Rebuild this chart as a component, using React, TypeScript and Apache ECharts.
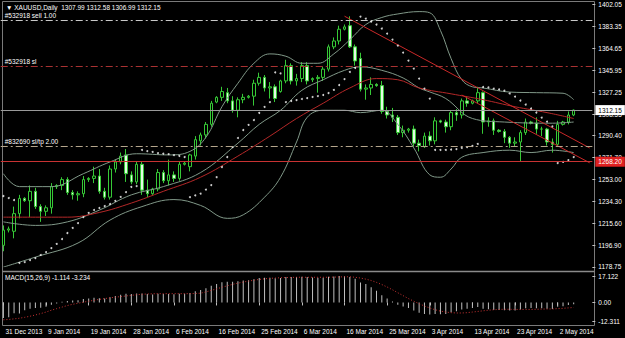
import React, { useEffect, useRef } from "react";
import * as echarts from "echarts";

const dates = [
  "31 Dec 2013",
  "1 Jan 2014","2 Jan 2014","3 Jan 2014","5 Jan 2014","6 Jan 2014","7 Jan 2014","8 Jan 2014","9 Jan 2014","10 Jan 2014","12 Jan 2014",
  "13 Jan 2014","14 Jan 2014","15 Jan 2014","16 Jan 2014","17 Jan 2014","19 Jan 2014","20 Jan 2014","21 Jan 2014","22 Jan 2014","23 Jan 2014",
  "24 Jan 2014","26 Jan 2014","27 Jan 2014","28 Jan 2014","29 Jan 2014","30 Jan 2014","31 Jan 2014",
  "2 Feb 2014","3 Feb 2014","4 Feb 2014","5 Feb 2014","6 Feb 2014","7 Feb 2014","9 Feb 2014","10 Feb 2014","11 Feb 2014","12 Feb 2014",
  "13 Feb 2014","14 Feb 2014","16 Feb 2014","17 Feb 2014","18 Feb 2014","19 Feb 2014","20 Feb 2014","21 Feb 2014","23 Feb 2014","24 Feb 2014",
  "25 Feb 2014","26 Feb 2014","27 Feb 2014","28 Feb 2014",
  "2 Mar 2014","3 Mar 2014","4 Mar 2014","5 Mar 2014","6 Mar 2014","7 Mar 2014","9 Mar 2014","10 Mar 2014","11 Mar 2014","12 Mar 2014",
  "13 Mar 2014","14 Mar 2014","16 Mar 2014","17 Mar 2014","18 Mar 2014","19 Mar 2014","20 Mar 2014","21 Mar 2014","23 Mar 2014","24 Mar 2014",
  "25 Mar 2014","26 Mar 2014","27 Mar 2014","28 Mar 2014","30 Mar 2014","31 Mar 2014",
  "1 Apr 2014","2 Apr 2014","3 Apr 2014","4 Apr 2014","6 Apr 2014","7 Apr 2014","8 Apr 2014","9 Apr 2014","10 Apr 2014","11 Apr 2014",
  "13 Apr 2014","14 Apr 2014","15 Apr 2014","16 Apr 2014","17 Apr 2014","20 Apr 2014","21 Apr 2014","22 Apr 2014","23 Apr 2014","24 Apr 2014",
  "25 Apr 2014","27 Apr 2014","28 Apr 2014","29 Apr 2014","30 Apr 2014",
  "1 May 2014","2 May 2014","4 May 2014","5 May 2014","6 May 2014",
];

const opens = [
  1197,1210,1209,1224,1237,1235,1243,1230,1226,1229,
  1247,1248,1253,1242,1240,1241,1253,1254,1256,1243,
  1238,1262,1268,1274,1257,1251,1266,1244,1241,1245,
  1259,1252,1257,1254,1266,1264,1273,1286,1291,1300,
  1319,1323,1327,1320,1312,1321,1323,1324,1335,1340,
  1331,1332,1328,1337,1350,1337,1339,1350,1338,1339,
  1340,1347,1366,1371,1381,1384,1366,1356,1330,1331,
  1334,1333,1311,1308,1306,1293,1295,1296,1284,1281,
  1290,1286,1303,1302,1298,1310,1308,1320,1318,1320,
  1327,1302,1303,1295,1294,1289,1284,1285,1293,1302,
  1301,1296,1296,1285,1283,1300,1302,1307.99,
];
const highs = [
  1214,1213,1230,1240,1238,1248,1246,1232,1231,1250,
  1249,1255,1255,1244,1243,1256,1255,1264,1262,1246,
  1265,1270,1276,1279,1260,1268,1268,1253,1246,1262,
  1261,1270,1260,1268,1268,1275,1290,1293,1302,1320,
  1324,1332,1331,1324,1323,1326,1325,1338,1344,1342,
  1336,1334,1338,1355,1352,1343,1353,1353,1340,1342,
  1349,1368,1374,1384,1385,1392,1368,1361,1334,1340,
  1335,1337,1315,1314,1308,1299,1297,1299,1287,1293,
  1294,1306,1304,1304,1312,1313,1322,1324,1321,1332,
  1328,1306,1305,1296,1296,1290,1289,1295,1305,1303,
  1306,1298,1297,1288,1303,1303,1311,1312.58,
];
const lows = [
  1192,1208,1203,1220,1234,1221,1228,1217,1222,1224,
  1245,1244,1240,1236,1235,1238,1251,1250,1241,1236,
  1236,1259,1266,1251,1249,1249,1240,1238,1240,1243,
  1250,1248,1251,1252,1265,1260,1270,1282,1288,1298,
  1318,1320,1318,1310,1306,1318,1322,1316,1333,1328,
  1322,1319,1327,1335,1334,1333,1336,1334,1336,1327,
  1337,1345,1364,1368,1380,1365,1350,1328,1321,1325,
  1332,1309,1305,1302,1291,1289,1293,1281,1277,1280,
  1282,1283,1301,1293,1295,1303,1305,1315,1317,1318,
  1292,1298,1291,1293,1284,1280,1281,1268,1291,1300,
  1292,1290,1282,1276,1281,1299,1300,1306.99,
];
const closes = [
  1210,1211,1224,1237,1235,1243,1230,1226,1229,1247,
  1248,1253,1242,1240,1241,1253,1254,1256,1243,1238,
  1262,1268,1273,1258,1251,1266,1244,1241,1245,1259,
  1252,1257,1254,1266,1267,1274,1287,1291,1300,1318,
  1323,1328,1320,1312,1321,1323,1324,1335,1340,1331,
  1332,1322,1337,1350,1337,1339,1350,1337,1339,1340,
  1347,1366,1371,1381,1383,1366,1354,1330,1331,1334,
  1333,1311,1308,1306,1293,1295,1296,1284,1282,1290,
  1286,1303,1302,1298,1310,1308,1320,1318,1320,1327,
  1302,1303,1295,1294,1289,1284,1285,1293,1302,1301,
  1296,1296,1285,1283,1300,1302,1308,1312.15,
];

const sar = [
  1239.0,1237.3,1235.6,1182.0,1182.8,1184.5,1186.2,1188.8,1191.3,1194.7,
  1198.2,1202.4,1207.5,1211.8,1216.0,1221.1,1224.6,1227.1,1228.8,1230.5,
  1232.2,1234.8,1238.2,1242.4,1246.7,1247.5,1278.2,1277.3,1276.5,1275.6,
  1275.0,1274.6,1273.9,1273.1,1272.2,1238.0,1239.5,1241.0,1244.5,1248.3,
  1255.0,1263.7,1272.2,1280.7,1288.4,1295.2,1299.5,1303.7,1309.7,1314.8,
  1319.0,1344.2,1343.4,1319.0,1319.9,1320.7,1321.6,1322.4,1323.3,1324.1,
  1325.0,1326.7,1329.3,1333.5,1338.6,1344.6,1348.0,1391.8,1390.1,1387.5,
  1385.0,1381.6,1377.3,1372.2,1367.1,1361.1,1354.3,1347.5,1339.0,1330.5,
  1322.0,1278.2,1278.2,1278.2,1278.6,1279.0,1279.9,1280.7,1281.6,1283.3,
  1331.8,1331.4,1330.5,1329.7,1328.8,1326.3,1323.7,1320.3,1316.9,1313.5,
  1310.1,1305.8,1302.4,1298.2,1267.1,1268.0,1269.6,1272.2,
];

const macdMain = [
  -10.0,-9.6,-7.0,-7.2,-5.0,-4.0,-3.5,-3.4,-2.8,-1.4,
  -0.6,0.4,1.0,1.3,1.5,2.2,2.6,3.0,2.8,2.6,
  3.4,4.2,5.0,5.6,5.4,5.8,5.8,5.4,5.2,5.6,
  5.4,5.4,5.3,5.6,5.7,6.2,7.2,8.0,9.2,10.8,
  12.0,13.0,13.4,13.4,13.8,14.2,14.3,15.0,15.8,16.0,
  16.0,15.6,15.8,16.4,16.4,16.4,16.6,16.4,16.2,16.0,
  16.0,16.6,16.8,17.1,17.0,16.4,15.4,12.9,11.9,9.8,
  7.6,4.6,2.5,0.6,-1.5,-2.6,-3.5,-5.2,-6.6,-7.4,
  -7.8,-7.4,-7.6,-7.4,-6.4,-5.6,-4.6,-4.0,-3.6,-3.0,
  -4.0,-4.4,-4.8,-4.8,-5.0,-5.2,-5.2,-4.6,-3.8,-3.6,
  -3.8,-3.8,-4.0,-4.2,-2.8,-2.4,-1.6,-1.114,
];
const macdSignal = [
  -11.2,-11.0,-10.6,-10.2,-9.6,-8.9,-8.1,-7.2,-6.2,-5.0,
  -4.0,-3.0,-2.0,-1.2,-0.5,0.2,0.8,1.4,2.0,2.5,
  3.0,3.4,3.8,4.2,4.6,5.0,5.3,5.5,5.6,5.7,
  5.7,5.7,5.7,5.7,5.7,5.7,5.8,6.0,6.8,7.8,
  8.8,9.8,10.8,11.7,12.5,13.2,13.8,14.4,14.9,15.3,
  15.6,15.8,16.0,16.1,16.2,16.3,16.3,16.3,16.3,16.3,
  16.3,16.3,16.4,16.5,16.6,16.6,16.3,15.8,15.1,14.2,
  13.0,11.6,10.0,8.2,6.3,4.4,2.5,0.8,-0.8,-2.3,
  -3.6,-4.7,-5.6,-6.2,-6.6,-6.8,-6.8,-6.6,-6.2,-5.8,
  -5.4,-5.0,-4.7,-4.5,-4.4,-4.4,-4.5,-4.5,-4.5,-4.5,
  -4.4,-4.3,-4.2,-4.2,-4.0,-3.8,-3.5,-3.234,
];

// Bollinger bands and moving average, read at selected bars: [bar index, price]
const bbUpper = [
  [0,1258],[3,1247],[9,1247],[15,1258],[20,1268],[25,1275],[31,1274],[35,1277],[38,1289],[41,1315],
  [44,1335],[47,1352],[50,1360],[53,1358],[56,1352],[59,1352],[62,1360],[65,1372],[68,1385],[71,1391],
  [74,1394],[78,1396],[80,1395],[82,1380],[84,1356],[86,1338],[88,1332],[90,1331],[95,1327.5],[100,1327],
  [105,1326.5],[107,1321],
];
const bbMiddle = [
  [0,1217],[6,1214],[12,1217],[18,1227],[24,1240],[30,1247],[37,1259],[44,1284],[48,1300],[52,1312],
  [56,1329],[60,1338],[64,1346],[67,1349],[71,1346],[75,1339.5],[78,1331],[80,1327.6],[83,1322],[88,1305],
  [94,1302],[103,1301],[107,1302],
];
const bbLower = [
  [0,1178.5],[6,1187],[14,1199],[20,1218.5],[26,1230],[32,1236],[37,1231],[42,1220],[45,1223],[49,1238],
  [52,1255],[55,1285],[57,1306],[60,1312],[64,1312],[67,1310],[71,1312],[74,1300],[77,1280],[80,1257],
  [82,1255],[84,1262],[86,1272],[90,1276],[95,1278],[99,1276],[103,1278],[107,1276],
];
const maRed = [
  [0,1221],[6,1221],[12,1221],[18,1225],[24,1233],[30,1243],[37,1255],[44,1273],[50,1290],[55,1305],
  [60,1318],[65,1331],[70,1339],[74,1338],[78,1331],[84,1326],[90,1321],[96,1315],[102,1310],[107,1305],
];
const trendLine1 = [[64,1392.1],[110,1279.9]];
const trendLine2 = [[86,1325],[110,1267.3]];

const priceTicks = [1402.05,1383.35,1364.65,1345.95,1327.25,1308.55,1290.40,1271.70,1253.00,1234.30,1215.60,1196.90,1178.75];
const macdTicks = [17.122, 0, -12.311];

const sellPrice = 1388.9;
const slPrice = 1349.7;
const sltpPrice = 1281.6;
const redLinePrice = 1268.2;
const bidPrice = 1312.15;

const EXTRA_SLOTS = 3;
const FONT = "Liberation Sans, Arial, sans-serif";

export default function App() {
  const ref = useRef<HTMLDivElement>(null);
  useEffect(() => {
    const chart = echarts.init(ref.current!, null, { renderer: "svg" });
    const cats = [...dates, ...Array(EXTRA_SLOTS).fill("")];
    const last = dates.length - 1;
    const header = `\u25BC XAUUSD,Daily  ${opens[last].toFixed(2)} ${highs[last].toFixed(2)} ${lows[last].toFixed(2)} ${closes[last].toFixed(2)}`;
    const macdHeader = `MACD(15,26,9) ${macdMain[last].toFixed(3)} ${macdSignal[last].toFixed(3)}`;
    const showIdx = (i: number) => i % 8 === 0 && i < dates.length;
    const dashDot = [7, 3, 2, 3];
    const txt = { color: "#ffffff", fontSize: 6.5, fontFamily: FONT };
    const bandColor = "#809888";

    const option: any = {
      animation: false,
      backgroundColor: "#000000",
      title: [
        { text: header, left: 6, top: 4, padding: 0, textStyle: { ...txt, fontWeight: "normal" } },
        { text: macdHeader, left: 5, top: 274, padding: 0, textStyle: { ...txt, fontWeight: "normal" } },
      ],
      grid: [
        { left: 0.74, top: 4.5, width: 591.6, height: 262.3 },
        { left: 0.74, top: 276, width: 591.6, height: 45.5 },
      ],
      xAxis: [
        { type: "category", gridIndex: 0, data: cats, boundaryGap: true, show: false },
        {
          type: "category", gridIndex: 1, data: cats, boundaryGap: true, offset: 3.5,
          axisLine: { show: false },
          axisTick: { show: true, interval: showIdx, alignWithLabel: true, length: 3, lineStyle: { color: "#c0c0c0" } },
          axisLabel: { show: true, interval: showIdx, align: "left", margin: 3, padding: [0, 0, 0, 2], ...txt },
          splitLine: { show: false },
        },
      ],
      yAxis: [
        {
          type: "value", gridIndex: 0, position: "right", min: 1178.75, max: 1402.05, scale: true,
          axisLine: { show: false },
          splitLine: { show: false },
          axisTick: { show: true, customValues: priceTicks, length: 3, lineStyle: { color: "#c0c0c0" } },
          axisLabel: { show: true, customValues: priceTicks, margin: 6, formatter: (v: number) => v.toFixed(2), ...txt },
        },
        {
          type: "value", gridIndex: 1, position: "right", min: -12.311, max: 17.122,
          axisLine: { show: false },
          splitLine: { show: false },
          axisTick: { show: true, customValues: macdTicks, length: 3, lineStyle: { color: "#c0c0c0" } },
          axisLabel: { show: true, customValues: macdTicks, margin: 6, formatter: (v: number) => (v === 0 ? "0.00" : v.toFixed(3)), ...txt },
        },
      ],
      series: [
        {
          type: "line", xAxisIndex: 0, yAxisIndex: 0, data: bbUpper, smooth: 0.4, symbol: "none", silent: true,
          lineStyle: { color: bandColor, width: 1 }, z: 3,
        },
        {
          type: "line", xAxisIndex: 0, yAxisIndex: 0, data: bbMiddle, smooth: 0.4, symbol: "none", silent: true,
          lineStyle: { color: bandColor, width: 1 }, z: 3,
        },
        {
          type: "line", xAxisIndex: 0, yAxisIndex: 0, data: bbLower, smooth: 0.4, symbol: "none", silent: true,
          lineStyle: { color: bandColor, width: 1 }, z: 3,
        },
        {
          type: "line", xAxisIndex: 0, yAxisIndex: 0, data: maRed, smooth: 0.4, symbol: "none", silent: true,
          lineStyle: { color: "#b42828", width: 1 }, z: 3,
        },
        {
          type: "line", xAxisIndex: 0, yAxisIndex: 0, data: trendLine1, symbol: "none", silent: true,
          lineStyle: { color: "#c82828", width: 1 }, z: 3,
        },
        {
          type: "line", xAxisIndex: 0, yAxisIndex: 0, data: trendLine2, symbol: "none", silent: true,
          lineStyle: { color: "#c82828", width: 1 }, z: 3,
        },
        {
          type: "candlestick", xAxisIndex: 0, yAxisIndex: 0, barWidth: 3, silent: true,
          data: dates.map((_, i) => [opens[i], closes[i], lows[i], highs[i]]),
          itemStyle: { color: "#000000", color0: "#e2fbe2", borderColor: "#36c936", borderColor0: "#36c936", borderWidth: 1 },
          z: 2,
          markLine: {
            symbol: ["none", "none"], silent: true, animation: false, z: 5,
            data: [
              { yAxis: sellPrice, lineStyle: { color: "#c8c8c8", type: dashDot, width: 1 },
                label: { show: true, position: "insideStartTop", formatter: "#532918 sell 1.00", distance: [4, 1], ...txt } },
              { yAxis: slPrice, lineStyle: { color: "#a83232", type: dashDot, width: 1 },
                label: { show: true, position: "insideStartTop", formatter: "#532918 sl", distance: [4, 1], ...txt } },
              { yAxis: sltpPrice, lineStyle: { color: "#b4a58c", type: dashDot, width: 1 },
                label: { show: true, position: "insideStartTop", formatter: "#832690 sl/tp 2.00", distance: [4, 1], ...txt } },
              { yAxis: redLinePrice, lineStyle: { color: "#c83232", type: "solid", width: 1 },
                label: { show: true, position: "end", formatter: redLinePrice.toFixed(2), distance: 3, backgroundColor: "#e02020", padding: [2, 3, 1, 3], ...txt } },
              { yAxis: bidPrice, lineStyle: { color: "#9a9a9a", type: "solid", width: 1 },
                label: { show: true, position: "end", formatter: bidPrice.toFixed(2), distance: 3, backgroundColor: "#ffffff", padding: [2, 3, 1, 3], ...txt, color: "#000000" } },
            ],
          },
        },
        {
          type: "scatter", xAxisIndex: 0, yAxisIndex: 0, data: sar.map((v, i) => [i, v]), symbol: "circle", symbolSize: 2, silent: true,
          itemStyle: { color: "#ffffff" }, z: 4,
        },
        {
          type: "bar", xAxisIndex: 1, yAxisIndex: 1, data: macdMain, barWidth: 1, silent: true,
          itemStyle: { color: "#c0c0c0" },
        },
        {
          type: "line", xAxisIndex: 1, yAxisIndex: 1, data: macdSignal, symbol: "none", silent: true,
          lineStyle: { color: "#c83232", width: 1, type: [1, 2] }, z: 3,
        },
      ],
      graphic: [
        { type: "line", shape: { x1: 2.5, y1: 1.5, x2: 594.5, y2: 1.5 }, style: { stroke: "#7a7a7a", lineWidth: 1 }, silent: true },
        { type: "line", shape: { x1: 2.5, y1: 1.5, x2: 2.5, y2: 325.5 }, style: { stroke: "#7a7a7a", lineWidth: 1 }, silent: true },
        { type: "line", shape: { x1: 594.5, y1: 1.5, x2: 594.5, y2: 325.5 }, style: { stroke: "#7a7a7a", lineWidth: 1 }, silent: true },
        { type: "line", shape: { x1: 2.5, y1: 271.5, x2: 594.5, y2: 271.5 }, style: { stroke: "#8a8a8a", lineWidth: 1.5 }, silent: true },
        { type: "line", shape: { x1: 2.5, y1: 325.5, x2: 594.5, y2: 325.5 }, style: { stroke: "#7a7a7a", lineWidth: 1 }, silent: true },
      ],
    };
    chart.setOption(option);
    return () => chart.dispose();
  }, []);
  return (
    <div
      ref={ref}
      style={{ position: "fixed", left: 0, top: 0, width: 625, height: 338, background: "#000000" }}
    />
  );
}
